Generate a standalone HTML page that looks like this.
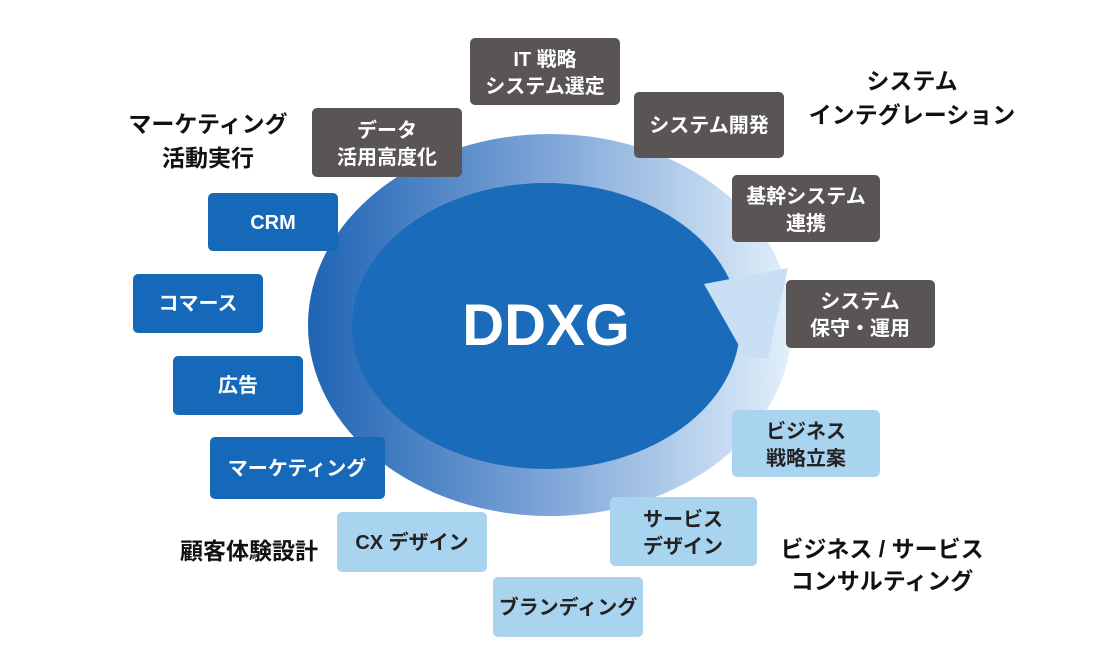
<!DOCTYPE html>
<html><head><meta charset="utf-8"><style>
body{margin:0;background:#fff;}
svg{display:block}
text{font-family:"Liberation Sans","Noto Sans CJK JP",sans-serif;font-weight:bold;}
</style></head><body>
<svg width="1093" height="672" viewBox="0 0 1093 672" xmlns="http://www.w3.org/2000/svg">
<defs>
<linearGradient id="g" x1="0" y1="0" x2="1" y2="0">
<stop offset="0" stop-color="#1f64b4"/><stop offset="0.5" stop-color="#7fa6d8"/><stop offset="1" stop-color="#e2f0fb"/>
</linearGradient>
</defs>
<rect width="1093" height="672" fill="#fff"/>
<ellipse cx="550" cy="325" rx="242" ry="191" fill="url(#g)"/>
<ellipse cx="546" cy="326" rx="194" ry="143" fill="#1a6cba"/>
<polygon points="704,284 788,268 768,358 746,358" fill="#c9e0f4"/>
<text x="546" y="345" font-size="58" fill="#fff" text-anchor="middle">DDXG</text>
<g font-size="20" text-anchor="middle">
<rect x="470" y="38" width="150" height="67" rx="5" fill="#595555"/>
<text x="545" y="66" fill="#fff">IT 戦略</text><text x="545" y="93" fill="#fff">システム選定</text>
<rect x="312" y="108" width="150" height="69" rx="5" fill="#595555"/>
<text x="387" y="137" fill="#fff">データ</text><text x="387" y="164" fill="#fff">活用高度化</text>
<rect x="634" y="92" width="150" height="66" rx="5" fill="#595555"/>
<text x="709" y="132" fill="#fff">システム開発</text>
<rect x="732" y="175" width="148" height="67" rx="5" fill="#595555"/>
<text x="806" y="203" fill="#fff">基幹システム</text><text x="806" y="230" fill="#fff">連携</text>
<rect x="786" y="280" width="149" height="68" rx="5" fill="#595555"/>
<text x="860" y="308" fill="#fff">システム</text><text x="860" y="335" fill="#fff">保守・運用</text>
<rect x="208" y="193" width="130" height="58" rx="5" fill="#1668b8"/>
<text x="273" y="229" fill="#fff">CRM</text>
<rect x="133" y="274" width="130" height="59" rx="5" fill="#1668b8"/>
<text x="198" y="310" fill="#fff">コマース</text>
<rect x="173" y="356" width="130" height="59" rx="5" fill="#1668b8"/>
<text x="238" y="392" fill="#fff">広告</text>
<rect x="210" y="437" width="175" height="62" rx="5" fill="#1668b8"/>
<text x="297" y="475" fill="#fff">マーケティング</text>
<rect x="337" y="512" width="150" height="60" rx="5" fill="#a9d4f0"/>
<text x="412" y="549" fill="#222">CX デザイン</text>
<rect x="493" y="577" width="150" height="60" rx="5" fill="#a9d4f0"/>
<text x="568" y="614" fill="#222">ブランディング</text>
<rect x="610" y="497" width="147" height="69" rx="5" fill="#a9d4f0"/>
<text x="683" y="526" fill="#222">サービス</text><text x="683" y="553" fill="#222">デザイン</text>
<rect x="732" y="410" width="148" height="67" rx="5" fill="#a9d4f0"/>
<text x="806" y="438" fill="#222">ビジネス</text><text x="806" y="465" fill="#222">戦略立案</text>
</g>
<g font-size="23" text-anchor="middle" fill="#111">
<text x="208" y="132">マーケティング</text><text x="208" y="166">活動実行</text>
<text x="912" y="89">システム</text><text x="912" y="123">インテグレーション</text>
<text x="249" y="559">顧客体験設計</text>
<text x="882" y="557">ビジネス / サービス</text><text x="882" y="589">コンサルティング</text>
</g>
</svg>
</body></html>
